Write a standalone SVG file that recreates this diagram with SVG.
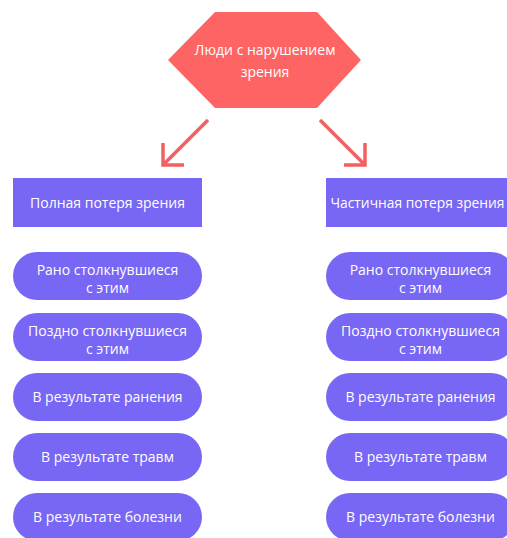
<svg xmlns="http://www.w3.org/2000/svg" width="507" height="538" viewBox="0 0 507 538">
<style>
.t{font-family:"Open Sans","Noto Sans","DejaVu Sans",sans-serif;font-size:14px;fill:#ffffff;text-anchor:middle}
.box{fill:#7866f4}
.con{stroke:#f26060;stroke-width:3.5;fill:none;stroke-linecap:butt}
</style>
<rect width="507" height="538" fill="#ffffff"/>
<g id="root">
<polygon points="215,12 317,12 361,60 317,108 215,108 168,60" fill="#ff6464"/>
<text class="t" x="265" y="55">Люди с нарушением</text>
<text class="t" x="265" y="77">зрения</text>
</g>
<g id="connectors">
<path class="con" d="M208,120 L164,164"/>
<path class="con" d="M163,143 L163,165 L184,165"/>
<path class="con" d="M320,120 L364,164"/>
<path class="con" d="M365,143 L365,165 L344,165"/>
</g>
<g id="full">
<rect class="box" x="13" y="178" width="189" height="49"/>
<text class="t" x="107.5" y="208">Полная потеря зрения</text>
</g>
<g id="partial">
<rect class="box" x="326" y="178" width="189" height="49"/>
<text class="t" x="417.5" y="208" textLength="174" lengthAdjust="spacingAndGlyphs">Частичная потеря зрения</text>
</g>
<g id="l-early">
<rect class="box" x="13" y="252" width="189" height="48" rx="24"/>
<text class="t" x="107.5" y="275">Рано столкнувшиеся</text>
<text class="t" x="107.5" y="293">с этим</text>
</g>
<g id="l-late">
<rect class="box" x="13" y="313" width="189" height="48" rx="24"/>
<text class="t" x="107.5" y="336">Поздно столкнувшиеся</text>
<text class="t" x="107.5" y="354">с этим</text>
</g>
<g id="l-wound">
<rect class="box" x="13" y="373" width="189" height="48" rx="24"/>
<text class="t" x="107.5" y="402">В результате ранения</text>
</g>
<g id="l-trauma">
<rect class="box" x="13" y="433" width="189" height="48" rx="24"/>
<text class="t" x="107.5" y="462">В результате травм</text>
</g>
<g id="l-disease">
<rect class="box" x="13" y="493" width="189" height="48" rx="24"/>
<text class="t" x="107.5" y="522">В результате болезни</text>
</g>
<g id="r-early">
<rect class="box" x="326" y="252" width="189" height="48" rx="24"/>
<text class="t" x="420.5" y="275">Рано столкнувшиеся</text>
<text class="t" x="420.5" y="293">с этим</text>
</g>
<g id="r-late">
<rect class="box" x="326" y="313" width="189" height="48" rx="24"/>
<text class="t" x="420.5" y="336">Поздно столкнувшиеся</text>
<text class="t" x="420.5" y="354">с этим</text>
</g>
<g id="r-wound">
<rect class="box" x="326" y="373" width="189" height="48" rx="24"/>
<text class="t" x="420.5" y="402">В результате ранения</text>
</g>
<g id="r-trauma">
<rect class="box" x="326" y="433" width="189" height="48" rx="24"/>
<text class="t" x="420.5" y="462">В результате травм</text>
</g>
<g id="r-disease">
<rect class="box" x="326" y="493" width="189" height="48" rx="24"/>
<text class="t" x="420.5" y="522">В результате болезни</text>
</g>
</svg>
